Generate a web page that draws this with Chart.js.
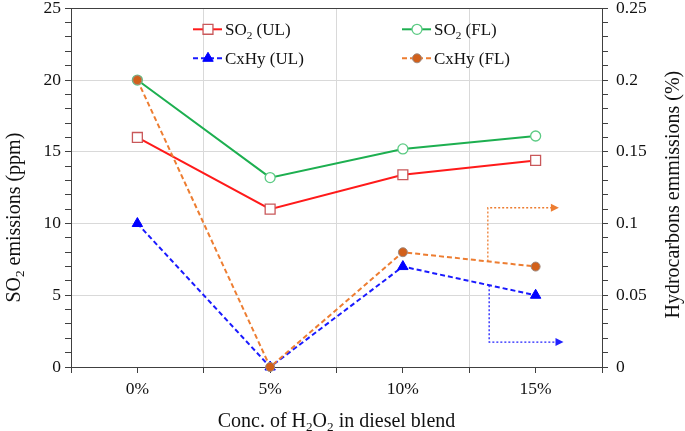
<!DOCTYPE html>
<html>
<head>
<meta charset="utf-8">
<script src="https://cdn.jsdelivr.net/npm/chart.js@4"></script>
<style>
  html, body { margin: 0; padding: 0; background: #fff; }
  #wrap { width: 685px; height: 431px; }
</style>
</head>
<body>
<div id="wrap"><canvas id="chart"></canvas></div>
<script>
// data
const categories = ['0%', '5%', '10%', '15%'];
const so2UL = [16.0, 11.0, 13.4, 14.4];
const so2FL = [20.0, 13.2, 15.2, 16.1];
const cxhyUL = [0.10, 0.0, 0.07, 0.05];
const cxhyFL = [0.20, 0.0, 0.08, 0.07];
const leftTicks = [0, 5, 10, 15, 20, 25];
const rightTicks = [0, 0.05, 0.1, 0.15, 0.2, 0.25];

// the two dotted "points to right axis" arrows, in data units (x index, right axis value)
const arrowFL = [[2.64, 0.0736], [2.64, 0.111], [3.175, 0.111]];
const arrowUL = [[2.65, 0.057], [2.65, 0.0174], [3.21, 0.0174]];

const FONT = '"Liberation Serif", "Times New Roman", serif';
const AXIS = '#404040';
const GRID = '#d9d9d9';
const TICK_SIZE = 17.5;
const TITLE_SIZE = 20;

const toPoints = arr => arr.map((v, i) => ({ x: i, y: v }));

// draws text, rendering "₂" as a real subscript
function drawRich(ctx, text, x, y, size, align) {
  const parts = [];
  for (const ch of text) {
    const sub = ch === '₂';
    const t = sub ? '2' : ch;
    const last = parts[parts.length - 1];
    if (last && last.sub === sub) last.t += t;
    else parts.push({ t, sub });
  }
  let w = 0;
  parts.forEach(p => {
    ctx.font = (p.sub ? size * 0.66 : size) + 'px ' + FONT;
    p.w = ctx.measureText(p.t).width;
    w += p.w;
  });
  let cx = align === 'center' ? x - w / 2 : x;
  ctx.textBaseline = 'alphabetic';
  ctx.textAlign = 'left';
  parts.forEach(p => {
    ctx.font = (p.sub ? size * 0.66 : size) + 'px ' + FONT;
    ctx.fillText(p.t, cx, y + size * 0.33 + (p.sub ? size * 0.22 : 0));
    cx += p.w;
  });
}

function drawMarker(ctx, ds, x, y) {
  const r = ds.pointRadius;
  ctx.save();
  ctx.setLineDash([]);
  ctx.lineWidth = ds.pointBorderWidth;
  ctx.strokeStyle = ds.pointBorderColor;
  ctx.fillStyle = ds.pointBackgroundColor;
  ctx.beginPath();
  if (ds.pointStyle === 'rect') {
    const s = Math.SQRT1_2 * r;
    ctx.rect(x - s, y - s, 2 * s, 2 * s);
  } else if (ds.pointStyle === 'triangle') {
    ctx.moveTo(x, y - r);
    ctx.lineTo(x + r * 0.87, y + r * 0.5);
    ctx.lineTo(x - r * 0.87, y + r * 0.5);
    ctx.closePath();
  } else {
    ctx.arc(x, y, r, 0, Math.PI * 2);
  }
  ctx.fill();
  ctx.stroke();
  ctx.restore();
}

// legend inside the plot, 2 x 2
const legendPlugin = {
  id: 'innerLegend',
  afterDraw(chart) {
    const { ctx, chartArea: a } = chart;
    const slots = [[122, 21], [331, 21], [122, 50], [331, 50]];
    chart.data.datasets.forEach((ds, i) => {
      const x = a.left + slots[i][0];
      const y = a.top + slots[i][1];
      ctx.save();
      ctx.strokeStyle = ds.borderColor;
      ctx.lineWidth = ds.borderWidth;
      ctx.setLineDash(ds.borderDash || []);
      ctx.beginPath();
      ctx.moveTo(x, y);
      ctx.lineTo(x + 29, y);
      ctx.stroke();
      ctx.restore();
      drawMarker(ctx, ds, x + 15, y);
      ctx.fillStyle = '#111';
      drawRich(ctx, ds.label, x + 32, y, 17, 'left');
    });
  }
};

// axis titles drawn by hand (subscripts, both rotated bottom-to-top)
const titlesPlugin = {
  id: 'axisTitles',
  afterDraw(chart) {
    const { ctx, chartArea: a } = chart;
    const midY = (a.top + a.bottom) / 2;
    ctx.save();
    ctx.fillStyle = '#111';
    drawRich(ctx, 'Conc. of H₂O₂ in diesel blend', (a.left + a.right) / 2, a.bottom + 53, TITLE_SIZE, 'center');
    ctx.save();
    ctx.translate(a.left - 58, midY + 30);
    ctx.rotate(-Math.PI / 2);
    drawRich(ctx, 'SO₂ emissions (ppm)', 0, 0, TITLE_SIZE, 'center');
    ctx.restore();
    ctx.save();
    ctx.translate(a.right + 70, midY + 7);
    ctx.rotate(-Math.PI / 2);
    drawRich(ctx, 'Hydrocarbons emmissions (%)', 0, 0, TITLE_SIZE, 'center');
    ctx.restore();
    ctx.restore();
  }
};

const arrowPlugin = {
  id: 'arrows',
  afterDatasetsDraw(chart) {
    const { ctx, scales } = chart;
    const draw = (pts, color) => {
      const p = pts.map(q => [scales.x.getPixelForValue(q[0]), scales.y1.getPixelForValue(q[1])]);
      ctx.save();
      ctx.strokeStyle = color;
      ctx.fillStyle = color;
      ctx.lineWidth = 1.3;
      ctx.setLineDash([2, 2]);
      ctx.beginPath();
      ctx.moveTo(p[0][0], p[0][1]);
      for (let i = 1; i < p.length; i++) ctx.lineTo(p[i][0] - (i === p.length - 1 ? 6 : 0), p[i][1]);
      ctx.stroke();
      ctx.setLineDash([]);
      const [ex, ey] = p[p.length - 1];
      ctx.beginPath();
      ctx.moveTo(ex, ey);
      ctx.lineTo(ex - 8, ey - 4);
      ctx.lineTo(ex - 8, ey + 4);
      ctx.closePath();
      ctx.fill();
      ctx.restore();
    };
    draw(arrowFL, '#ED7D31');
    draw(arrowUL, '#2020FF');
  }
};

// fixed axis boxes so the plot sits where it does in the figure
const fixY = w => s => { s.width = w; s.paddingTop = 0; s.paddingBottom = 0; };

new Chart(document.getElementById('chart'), {
  type: 'line',
  data: {
    datasets: [
      {
        label: 'SO₂ (UL)', data: toPoints(so2UL), yAxisID: 'y', order: 3,
        borderColor: '#FF1A1A', borderWidth: 2,
        pointStyle: 'rect', pointRadius: 7, pointBorderWidth: 1.3,
        pointBorderColor: '#C9585A', pointBackgroundColor: '#ffffff', clip: false
      },
      {
        label: 'SO₂ (FL)', data: toPoints(so2FL), yAxisID: 'y', order: 4,
        borderColor: '#1DAF50', borderWidth: 2,
        pointStyle: 'circle', pointRadius: 5, pointBorderWidth: 1.3,
        pointBorderColor: '#5CCB84', pointBackgroundColor: '#ffffff', clip: false
      },
      {
        label: 'CxHy (UL)', data: toPoints(cxhyUL), yAxisID: 'y1', order: 2,
        borderColor: '#1A1AFF', borderWidth: 2, borderDash: [5, 3],
        pointStyle: 'triangle', pointRadius: 6, pointBorderWidth: 1,
        pointBorderColor: '#0000FF', pointBackgroundColor: '#0000FF', clip: false
      },
      {
        label: 'CxHy (FL)', data: toPoints(cxhyFL), yAxisID: 'y1', order: 1,
        borderColor: '#ED7D31', borderWidth: 2, borderDash: [5, 3],
        pointStyle: 'circle', pointRadius: 4.5, pointBorderWidth: 1,
        pointBorderColor: '#9E8A80', pointBackgroundColor: '#D2601A', clip: false
      }
    ]
  },
  options: {
    responsive: true,
    maintainAspectRatio: false,
    animation: false,
    layout: { padding: { top: 7 } },
    plugins: { legend: { display: false }, tooltip: { enabled: false } },
    scales: {
      x: {
        type: 'linear', min: -0.5, max: 3.5,
        afterFit: s => { s.height = 64; s.paddingLeft = 0; s.paddingRight = 0; },
        border: { color: AXIS, width: 1 },
        grid: {
          color: c => {
            const v = c.tick.value;
            return (!Number.isInteger(v) && v > -0.4 && v < 3.4) ? GRID : 'rgba(0,0,0,0)';
          },
          tickColor: AXIS, tickLength: 6, lineWidth: 1
        },
        ticks: {
          stepSize: 0.5, autoSkip: false, maxRotation: 0, padding: 6,
          color: '#111', font: { family: FONT, size: TICK_SIZE },
          callback: v => Number.isInteger(v) ? categories[v] : ''
        }
      },
      y: {
        position: 'left', min: 0, max: 25,
        afterFit: fixY(71),
        border: { color: AXIS, width: 1 },
        grid: {
          color: c => {
            const v = c.tick.value;
            if (v === 25) return AXIS;
            return (v > 0 && leftTicks.includes(v)) ? GRID : 'rgba(0,0,0,0)';
          },
          tickColor: AXIS, tickLength: 6
        },
        ticks: {
          stepSize: 1, autoSkip: false, padding: 4,
          color: '#111', font: { family: FONT, size: TICK_SIZE },
          callback: v => leftTicks.includes(v) ? String(v) : ''
        }
      },
      y1: {
        position: 'right', min: 0, max: 0.25,
        afterFit: fixY(83),
        border: { color: AXIS, width: 1 },
        grid: { drawOnChartArea: false, tickColor: AXIS, tickLength: 6 },
        ticks: {
          stepSize: 0.01, autoSkip: false, padding: 8,
          color: '#111', font: { family: FONT, size: TICK_SIZE },
          callback: v => {
            const r = Math.round(v * 100) / 100;
            return rightTicks.some(t => Math.abs(t - r) < 1e-9) ? String(r) : '';
          }
        }
      }
    }
  },
  plugins: [arrowPlugin, legendPlugin, titlesPlugin]
});
</script>
</body>
</html>
